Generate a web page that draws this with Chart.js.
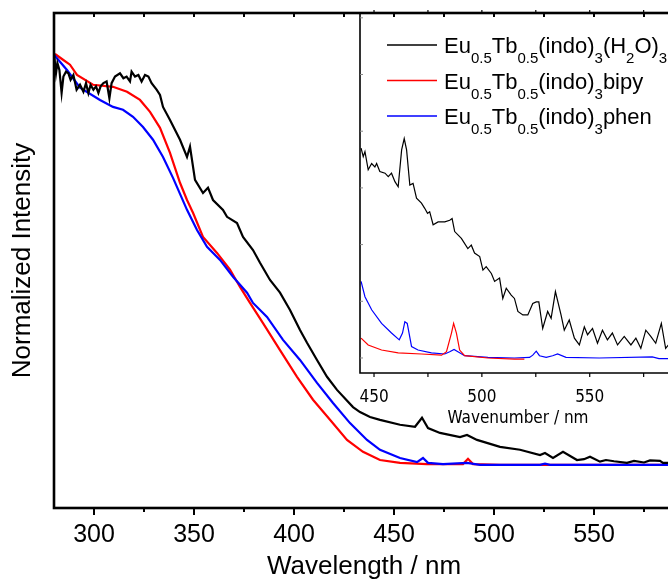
<!DOCTYPE html>
<html>
<head>
<meta charset="utf-8">
<script src="https://cdn.jsdelivr.net/npm/chart.js@4.4.1/dist/chart.umd.min.js"></script>
<style>
  html, body { margin: 0; padding: 0; background: #fff; overflow: hidden; width: 668px; height: 580px; }
  #main { position: absolute; left: 0; top: 0; }
  #inset { position: absolute; left: 320px; top: 0; }
</style>
</head>
<body>
<canvas id="main" width="690" height="580"></canvas>
<canvas id="inset" width="370" height="430"></canvas>
<script>
// ---- main spectra (wavelength nm, normalized intensity) ----
const blackX = [280, 281, 281.7, 282.7, 283.8, 284.7, 286, 287.2, 288.3, 289.7, 291.3, 293, 294.7, 296, 297.2, 298.3, 299.7, 301, 302.2, 303.3, 304.7, 306.3, 307.7, 308.8, 310.5, 313, 314.7, 316.3, 318, 318.8, 320.5, 322.2, 323.8, 325.5, 327.2, 328.8, 331.3, 333, 334.5, 338, 343, 346.5, 348, 350.5, 354.5, 357, 359.5, 364.5, 366.5, 371.5, 374.5, 379.5, 383, 388, 393, 398, 403, 406.5, 411.5, 416.5, 421.5, 429.5, 433, 438, 443, 453, 460.5, 464, 467, 473, 483, 486.5, 491.5, 503, 513, 523, 525.5, 529.5, 534.5, 541.5, 545, 548, 553, 556, 560, 566.5, 570, 575, 578, 583, 584.5, 590];
const blackY = [1.004, 0.955, 0.98, 0.963, 0.907, 0.947, 0.959, 0.955, 0.939, 0.951, 0.915, 0.927, 0.91, 0.931, 0.907, 0.927, 0.915, 0.923, 0.907, 0.923, 0.931, 0.935, 0.894, 0.931, 0.947, 0.955, 0.943, 0.947, 0.935, 0.959, 0.947, 0.951, 0.935, 0.951, 0.947, 0.931, 0.915, 0.902, 0.873, 0.841, 0.793, 0.751, 0.776, 0.695, 0.663, 0.676, 0.646, 0.622, 0.605, 0.59, 0.556, 0.524, 0.493, 0.451, 0.42, 0.378, 0.329, 0.298, 0.256, 0.215, 0.183, 0.141, 0.129, 0.117, 0.11, 0.098, 0.093, 0.115, 0.09, 0.078, 0.068, 0.073, 0.061, 0.044, 0.037, 0.024, 0.029, 0.017, 0.032, 0.012, 0.014, 0.02, 0.008, 0.012, 0.009, 0.005, 0.01, 0.006, 0.011, 0.01, 0.005, 0.005];

const redX = [280.5, 284.5, 288, 291.5, 299.5, 309.5, 316.5, 323, 328, 333, 338, 343, 346.5, 349.5, 354.5, 361.5, 368, 373, 378, 384.5, 393, 401.5, 409.5, 418, 426.5, 434.5, 443, 453, 466.5, 484.5, 487, 489.5, 503, 590];
const redY = [1.002, 0.988, 0.976, 0.951, 0.927, 0.922, 0.91, 0.89, 0.861, 0.822, 0.761, 0.688, 0.646, 0.615, 0.556, 0.517, 0.476, 0.434, 0.395, 0.346, 0.28, 0.215, 0.159, 0.11, 0.061, 0.032, 0.012, 0.005, 0.002, 0.002, 0.015, 0.002, 0, 0];

const blueX = [280, 286.5, 293, 303, 309.5, 314.5, 319.5, 324.5, 329.5, 334.5, 339.5, 346.5, 351.5, 356.5, 363, 369.5, 376.5, 379.5, 386.5, 394.5, 403, 411.5, 419.5, 428, 436.5, 443, 453, 461.5, 464.5, 467, 474.5, 486.5, 493, 523, 525.5, 528, 590];
const blueY = [1.0, 0.963, 0.92, 0.89, 0.873, 0.866, 0.849, 0.824, 0.793, 0.751, 0.7, 0.622, 0.573, 0.532, 0.5, 0.459, 0.42, 0.395, 0.361, 0.305, 0.256, 0.2, 0.151, 0.102, 0.061, 0.037, 0.017, 0.007, 0.017, 0.005, 0.002, 0.005, 0, 0, 0.003, 0, 0];

// ---- inset spectra ----
const inBlackX = [444, 445, 445.8, 447.3, 448.9, 450.4, 451.2, 452.7, 455.1, 456.6, 458.1, 459.7, 461.2, 462.8, 464, 465.1, 466.6, 468.1, 469.7, 472, 473.5, 474.8, 475.8, 477.4, 479.7, 482.8, 485.1, 486.2, 487.4, 490.5, 493.5, 495.1, 496.6, 499, 500.5, 502, 504.4, 505.9, 508.2, 509.7, 511.3, 513.6, 515.1, 516.7, 519, 521.3, 523.6, 525.2, 526.4, 528.2, 530.5, 532.1, 534.1, 536.7, 538.2, 540.5, 542.9, 545.2, 547.5, 549, 551.3, 553.6, 555.9, 558.2, 560.5, 562.9, 566, 569.1, 571.4, 573.7, 576, 578.3, 580.6, 583.2, 585.2, 588];
const inBlackY = [3.7, 3.55, 3.64, 3.32, 3.43, 3.37, 3.43, 3.29, 3.26, 3.2, 3.26, 3.11, 3.02, 3.67, 3.87, 3.67, 3.05, 3.08, 2.82, 2.73, 2.64, 2.55, 2.58, 2.35, 2.4, 2.4, 2.43, 2.46, 2.23, 2.11, 1.93, 1.99, 1.85, 1.79, 1.55, 1.61, 1.49, 1.35, 1.41, 1.05, 1.23, 1.11, 1.05, 0.82, 0.76, 0.76, 0.96, 0.99, 0.99, 0.52, 0.82, 0.7, 1.17, 0.76, 0.49, 0.67, 0.35, 0.23, 0.55, 0.41, 0.52, 0.26, 0.49, 0.32, 0.44, 0.23, 0.38, 0.23, 0.35, 0.17, 0.49, 0.38, 0.26, 0.61, 0.17, 0.3];

const inRedX = [444, 447.3, 453.5, 461.2, 472, 481.3, 483.6, 485.9, 486.9, 488.2, 489.7, 492, 502.8, 515.1, 519.7];
const inRedY = [0.35, 0.23, 0.14, 0.09, 0.07, 0.05, 0.11, 0.44, 0.61, 0.44, 0.14, 0.04, 0.0, -0.02, -0.02];

const inBlueX = [444, 445.8, 448.9, 453.5, 458.1, 461.7, 463.2, 464.3, 465.4, 467.4, 470.4, 476.6, 482.8, 485.1, 487.1, 488.9, 492, 502.8, 515.1, 522.1, 523.6, 525.2, 526.7, 529.8, 532.8, 535.1, 539, 554.4, 579, 582.1, 590];
const inBlueY = [1.35, 1.08, 0.85, 0.61, 0.44, 0.32, 0.44, 0.64, 0.61, 0.2, 0.14, 0.09, 0.07, 0.11, 0.15, 0.11, 0.04, 0.01, 0.0, 0.01, 0.05, 0.12, 0.04, 0.01, 0.04, 0.07, 0.01, 0.0, 0.02, -0.01, -0.01];

// ---- ticks ----
const mainMajorTicks = [300, 350, 400, 450, 500, 550];
const mainMinorTicks = [325, 375, 425, 475, 525, 575];
const insetMajorTicks = [450, 500, 550];
const insetMinorTicks = [475, 525, 575];
const insetYTicks = [0, 1, 2, 3, 4, 5, 6];

// legend labels: [text, isSubscript]
const legendLabels = [
  [['Eu', 0], ['0.5', 1], ['Tb', 0], ['0.5', 1], ['(indo)', 0], ['3', 1], ['(H', 0], ['2', 1], ['O)', 0], ['3', 1]],
  [['Eu', 0], ['0.5', 1], ['Tb', 0], ['0.5', 1], ['(indo)', 0], ['3', 1], ['bipy', 0]],
  [['Eu', 0], ['0.5', 1], ['Tb', 0], ['0.5', 1], ['(indo)', 0], ['3', 1], ['phen', 0]],
];
const seriesColors = ['#000000', '#ff0000', '#0000ff'];

const pts = (xs, ys) => xs.map((x, i) => ({ x, y: ys[i] }));
const labelText = (segs) => segs.map((s) => s[0]).join('');

const ARIAL = '"Liberation Sans", Arial, sans-serif';
const NARROW = '"Liberation Sans Narrow", "Arial Narrow", "DejaVu Sans Condensed", "Liberation Sans", sans-serif';

Chart.defaults.color = '#000';
Chart.defaults.font.family = ARIAL;

function tick(ctx, x1, y1, x2, y2) {
  ctx.beginPath();
  ctx.moveTo(x1, y1);
  ctx.lineTo(x2, y2);
  ctx.stroke();
}

// frame + tick marks of the main plot
const mainFrame = {
  id: 'mainFrame',
  afterDraw(chart) {
    const { ctx, chartArea: a, scales: { x } } = chart;
    ctx.save();
    ctx.strokeStyle = '#000';
    ctx.lineWidth = 2.6;
    ctx.strokeRect(a.left, a.top, a.right - a.left, a.bottom - a.top);
    ctx.lineWidth = 2;
    mainMajorTicks.forEach((v) => {
      const px = x.getPixelForValue(v);
      tick(ctx, px, a.bottom, px, a.bottom + 7);
      tick(ctx, px, a.top, px, a.top + 4);
    });
    mainMinorTicks.forEach((v) => {
      const px = x.getPixelForValue(v);
      tick(ctx, px, a.bottom, px, a.bottom + 4);
      tick(ctx, px, a.top, px, a.top + 4);
    });
    ctx.restore();
  },
};

// axes, ticks and legend of the inset
const insetFrame = {
  id: 'insetFrame',
  afterDraw(chart) {
    const { ctx, chartArea: a, scales: { x, y } } = chart;
    ctx.save();
    ctx.strokeStyle = '#000';
    ctx.lineWidth = 1.6;
    ctx.beginPath();
    ctx.moveTo(a.left, a.top);
    ctx.lineTo(a.left, a.bottom);
    ctx.lineTo(a.right + 20, a.bottom);
    ctx.stroke();
    ctx.lineWidth = 1.2;
    insetMajorTicks.concat(insetMinorTicks).forEach((v) => {
      const px = x.getPixelForValue(v);
      tick(ctx, px, a.bottom, px, a.bottom + 4);
      tick(ctx, px, a.top, px, a.top - 3);
    });
    ctx.strokeStyle = '#888';
    ctx.lineWidth = 1;
    insetYTicks.forEach((v) => {
      const py = y.getPixelForValue(v);
      tick(ctx, a.left, py, a.left + 3, py);
    });

    // legend
    legendLabels.forEach((segs, i) => {
      const base = a.top + 40 + i * 35.5;
      ctx.strokeStyle = seriesColors[i];
      ctx.lineWidth = 1.6;
      tick(ctx, a.left + 27, base - 8, a.left + 77, base - 8);
      let tx = a.left + 84;
      ctx.fillStyle = '#000';
      ctx.textBaseline = 'alphabetic';
      ctx.textAlign = 'left';
      segs.forEach(([t, sub]) => {
        ctx.font = (sub ? '15px ' : '22px ') + ARIAL;
        ctx.fillText(t, tx, sub ? base + 10 : base);
        tx += ctx.measureText(t).width;
      });
    });
    ctx.restore();
  },
};

new Chart(document.getElementById('main'), {
  type: 'line',
  data: {
    datasets: [
      { label: labelText(legendLabels[0]), data: pts(blackX, blackY), borderColor: seriesColors[0], order: 0 },
      { label: labelText(legendLabels[1]), data: pts(redX, redY), borderColor: seriesColors[1], order: 2 },
      { label: labelText(legendLabels[2]), data: pts(blueX, blueY), borderColor: seriesColors[2], order: 1 },
    ],
  },
  options: {
    responsive: false,
    devicePixelRatio: 1,
    animation: false,
    parsing: false,
    layout: { padding: { top: 13, right: 16, left: 0, bottom: 0 } },
    elements: { point: { radius: 0 }, line: { borderWidth: 2.2, tension: 0 } },
    plugins: { legend: { display: false }, tooltip: { enabled: false } },
    scales: {
      x: {
        type: 'linear',
        min: 280,
        max: 590,
        grid: { display: false },
        border: { display: false },
        afterBuildTicks: (s) => { s.ticks = mainMajorTicks.map((v) => ({ value: v })); },
        afterFit: (s) => { s.height = 72; },
        ticks: { font: { size: 25 }, padding: 4, maxRotation: 0, autoSkip: false },
        title: { display: true, text: 'Wavelength / nm', font: { size: 26, lineHeight: 1 }, padding: { top: 0, bottom: 0 } },
      },
      y: {
        min: -0.105,
        max: 1.102,
        grid: { display: false },
        border: { display: false },
        ticks: { display: false },
        afterFit: (s) => { s.width = 54; },
        title: { display: true, text: 'Normalized Intensity', font: { size: 26, lineHeight: 1 }, padding: { top: 10, bottom: 0 } },
      },
    },
  },
  plugins: [mainFrame],
});

new Chart(document.getElementById('inset'), {
  type: 'line',
  data: {
    datasets: [
      { label: labelText(legendLabels[0]), data: pts(inBlackX, inBlackY), borderColor: seriesColors[0], order: 2 },
      { label: labelText(legendLabels[1]), data: pts(inRedX, inRedY), borderColor: seriesColors[1], order: 0 },
      { label: labelText(legendLabels[2]), data: pts(inBlueX, inBlueY), borderColor: seriesColors[2], order: 1 },
    ],
  },
  options: {
    responsive: false,
    devicePixelRatio: 1,
    animation: false,
    parsing: false,
    layout: { padding: { top: 13, right: 14, left: 0, bottom: 0 } },
    elements: { point: { radius: 0 }, line: { borderWidth: 1.2, tension: 0 } },
    plugins: { legend: { display: false }, tooltip: { enabled: false } },
    scales: {
      x: {
        type: 'linear',
        min: 443.5,
        max: 590,
        grid: { display: false },
        border: { display: false },
        afterBuildTicks: (s) => { s.ticks = insetMajorTicks.map((v) => ({ value: v })); },
        afterFit: (s) => { s.height = 57; },
        ticks: { font: { size: 17, family: NARROW }, padding: 6, maxRotation: 0, autoSkip: false },
        title: { display: true, text: 'Wavenumber / nm', font: { size: 17, family: NARROW, lineHeight: 1 }, padding: { top: 0, bottom: 2.5 } },
      },
      y: {
        min: -0.265,
        max: 6.085,
        grid: { display: false },
        border: { display: false },
        ticks: { display: false },
        afterFit: (s) => { s.width = 40; },
      },
    },
  },
  plugins: [insetFrame],
});
</script>
</body>
</html>
